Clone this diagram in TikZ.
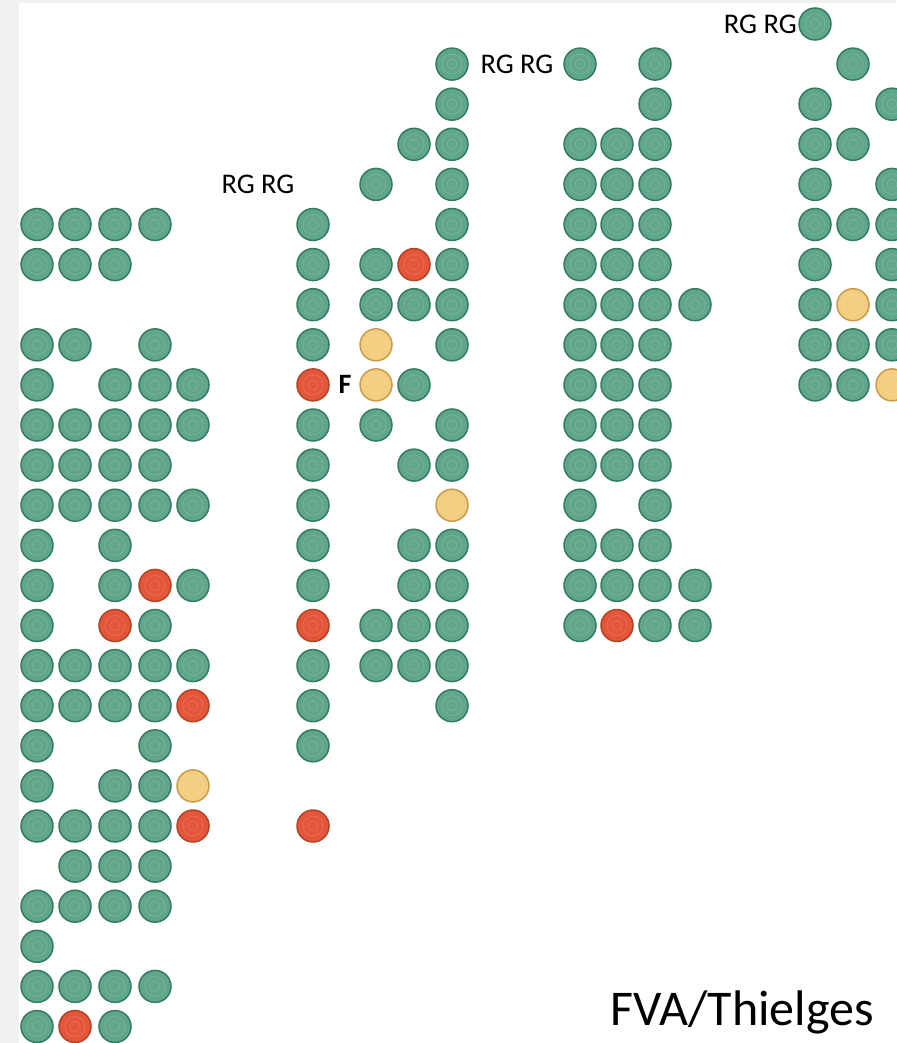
\documentclass[tikz,border=0pt]{standalone}
\usepackage{fontspec}
\setmainfont{Carlito}
\usepackage{tikz}
\usetikzlibrary{positioning}
\definecolor{treegreen}{HTML}{5FA68B}
\definecolor{treegreendk}{HTML}{347C61}
\definecolor{treered}{HTML}{E4553A}
\definecolor{treereddk}{HTML}{B24424}
\definecolor{treeyellow}{HTML}{F2CE80}
\definecolor{treeyellowdk}{HTML}{C99B4C}
\definecolor{paper}{HTML}{F1F1F1}

\begin{document}
\begin{tikzpicture}[
  x=1pt, y=-1pt,
  tree/.style={circle, minimum size=32pt, inner sep=0pt, line width=1.5pt,
               fill=treegreen, draw=treegreendk,
               path picture={\draw[white, opacity=0.12, line width=1pt]
                 (path picture bounding box.center) circle (5pt)
                 (path picture bounding box.center) circle (10pt);}},
  redtree/.style={tree, fill=treered, draw=treereddk},
  yeltree/.style={tree, fill=treeyellow, draw=treeyellowdk},
  lbl/.style={font=\fontsize{28.5}{30}\selectfont, inner sep=0pt},
  credit/.style={font=\fontsize{50}{52}\selectfont, inner sep=0pt}
]

  \useasboundingbox (0,0) rectangle (896,1043);
  \fill[paper] (0,0) rectangle (19,1043);
  \fill[paper] (0,0) rectangle (896,3);

  % left block
  \foreach \c/\x/\rs in {c1/37/{5,6,8,9,10,11,12,13,14,15,16,17,18,19,20,22,23,24,25},
                         c2/75/{5,6,8,10,11,12,16,17,20,21,22,24},
                         c3/115/{5,6,9,10,11,12,13,14,16,17,19,20,21,22,24,25},
                         c4/155/{5,8,9,10,11,12,15,16,17,18,19,20,21,22,24},
                         c5/193/{9,10,12,14,16}}
    \foreach \r in \rs
      \node[tree] (\c-\r) at (\x,{24+40.1*\r}) {};
  \node[redtree] (c2-25) at (75,{24+40.1*25}) {};
  \node[redtree] (c3-15) at (115,{24+40.1*15}) {};
  \node[redtree] (c4-14) at (155,{24+40.1*14}) {};
  \node[redtree] (c5-17) at (193,{24+40.1*17}) {};
  \node[redtree] (c5-20) at (193,{24+40.1*20}) {};
  \node[yeltree] (c5-19) at (193,{24+40.1*19}) {};

  % second block
  \foreach \c/\x/\rs in {d1/313/{5,6,7,8,10,11,12,13,14,16,17,18},
                         d2/376/{4,6,7,10,15,16},
                         d3/414/{3,7,9,11,13,14,15,16},
                         d4/452/{1,2,3,4,5,6,7,8,10,11,13,14,15,16,17}}
    \foreach \r in \rs
      \node[tree] (\c-\r) at (\x,{24+40.1*\r}) {};
  \node[redtree] (d1-9) at (313,{24+40.1*9}) {};
  \node[redtree] (d1-15) at (313,{24+40.1*15}) {};
  \node[redtree] (d1-20) at (313,{24+40.1*20}) {};
  \node[redtree] (d3-6) at (414,{24+40.1*6}) {};
  \node[yeltree] (d2-8) at (376,{24+40.1*8}) {};
  \node[yeltree] (d2-9) at (376,{24+40.1*9}) {};
  \node[yeltree] (d4-12) at (452,{24+40.1*12}) {};
  \node[font=\fontsize{28}{30}\selectfont\bfseries, inner sep=0pt] (flag) at (345,{24+40.1*9}) {F};

  % third block
  \foreach \c/\x/\rs in {e1/580/{1,3,4,5,6,7,8,9,10,11,12,13,14,15},
                         e2/617/{3,4,5,6,7,8,9,10,11,13,14},
                         e3/655/{1,2,3,4,5,6,7,8,9,10,11,12,13,14,15},
                         e4/695/{7,14,15}}
    \foreach \r in \rs
      \node[tree] (\c-\r) at (\x,{24+40.1*\r}) {};
  \node[redtree] (e2-15) at (617,{24+40.1*15}) {};

  % fourth block
  \foreach \c/\x/\rs in {f1/815/{0,2,3,4,5,6,7,8,9},
                         f2/853/{1,3,5,8,9},
                         f3/892/{2,4,5,6,7,8}}
    \foreach \r in \rs
      \node[tree] (\c-\r) at (\x,{24+40.1*\r}) {};
  \node[yeltree] (f2-7) at (853,{24+40.1*7}) {};
  \node[yeltree] (f3-9) at (892,{24+40.1*9}) {};

  % labels
  \node[lbl] (rg1) at (258,{24+40.1*4}) {RG RG};
  \node[lbl] (rg2) at (517,{24+40.1*1}) {RG RG};
  \node[lbl, anchor=east] (rg3) at (797,{24+40.1*0}) {RG RG};
  \node[credit, anchor=base east] (src) at (874,1025) {FVA/Thielges};

\end{tikzpicture}
\end{document}
